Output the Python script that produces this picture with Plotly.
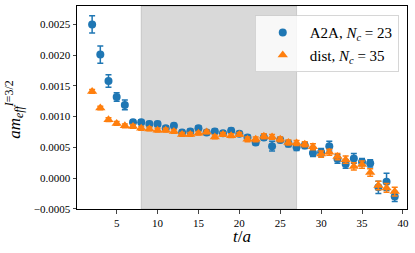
import plotly.graph_objects as go

t = list(range(2, 40))
a2a_vals = [0.00250, 0.00201, 0.00158, 0.00132, 0.00119, 0.00091, 0.00091, 0.00088, 0.00088, 0.00081,
            0.00085, 0.00074, 0.00076, 0.00081, 0.00074, 0.00076, 0.00073, 0.00077, 0.00072, 0.00066,
            0.00058, 0.00066, 0.00052, 0.00062, 0.00056, 0.00050, 0.00053, 0.00041, 0.00042, 0.00052,
            0.00031, 0.00023, 0.00032, 0.00026, 0.00024, -0.00015, -0.00006, -0.00030]
a2a_err = [0.00014, 0.00014, 0.00010, 0.00007, 0.00008, 0.00004, 0.00004, 0.00004, 0.00004, 0.00004,
           0.00004, 0.00004, 0.00004, 0.00004, 0.00004, 0.00004, 0.00004, 0.00004, 0.00004, 0.00004,
           0.00004, 0.00004, 0.00008, 0.00004, 0.00005, 0.00005, 0.00005, 0.00006, 0.00006, 0.00008,
           0.00007, 0.00007, 0.00008, 0.00006, 0.00006, 0.00010, 0.00014, 0.00008]
dist_vals = [0.00141, 0.00114, 0.00095, 0.00089, 0.00085, 0.00084, 0.00081, 0.00080, 0.00078, 0.00078,
             0.00076, 0.00071, 0.00071, 0.00073, 0.00075, 0.00067, 0.00071, 0.00069, 0.00071, 0.00063,
             0.00063, 0.00068, 0.00067, 0.00063, 0.00058, 0.00057, 0.00055, 0.00051, 0.00039, 0.00042,
             0.00035, 0.00030, 0.00019, 0.00022, 0.00009, -0.00012, -0.00016, -0.00022]
dist_err = [0.00003, 0.00003, 0.00003, 0.00003, 0.00003, 0.00003, 0.00003, 0.00003, 0.00003, 0.00003,
            0.00003, 0.00003, 0.00003, 0.00003, 0.00003, 0.00003, 0.00003, 0.00003, 0.00003, 0.00004,
            0.00004, 0.00004, 0.00004, 0.00004, 0.00004, 0.00004, 0.00004, 0.00005, 0.00005, 0.00005,
            0.00005, 0.00006, 0.00006, 0.00006, 0.00006, 0.00007, 0.00007, 0.00007]
fit_window = [8, 27]
x_ticks = [5, 10, 15, 20, 25, 30, 35, 40]
y_ticks = [-0.0005, 0.0, 0.0005, 0.0010, 0.0015, 0.0020, 0.0025]

FONT = "Liberation Serif, DejaVu Serif, serif"

fig = go.Figure()
fig.add_trace(go.Scatter(
    x=t, y=a2a_vals, mode="markers", name="A2A, <i>N</i><sub><i>c</i></sub> = 23",
    marker=dict(symbol="circle", size=8, color="#1f77b4"),
    error_y=dict(type="data", array=a2a_err, visible=True, color="#1f77b4", thickness=1.5, width=3),
))
fig.add_trace(go.Scatter(
    x=t, y=dist_vals, mode="markers", name="dist, <i>N</i><sub><i>c</i></sub> = 35",
    marker=dict(symbol="triangle-up", size=9, color="#ff7f0e"),
    error_y=dict(type="data", array=dist_err, visible=True, color="#ff7f0e", thickness=1.5, width=3),
))
fig.add_vrect(x0=fit_window[0], x1=fit_window[1], fillcolor="rgba(128,128,128,0.3)",
              line=dict(color="rgba(128,128,128,0.3)", width=1), layer="below")

fig.add_annotation(text="<i>t</i>/<i>a</i>", xref="paper", yref="paper", x=0.5, y=-0.135,
                   xanchor="center", yanchor="middle", showarrow=False,
                   font=dict(family=FONT, size=17, color="black"))
fig.add_annotation(text="<i>am</i><sub><i>eff</i></sub><sup><i>I</i>=3/2</sup>", xref="paper", yref="paper",
                   x=-0.19, y=0.49, xanchor="center", yanchor="middle", showarrow=False, textangle=-90,
                   font=dict(family=FONT, size=17, color="black"))

fig.update_layout(
    template="none",
    width=415, height=253,
    margin=dict(l=77, r=8, t=6, b=44, autoexpand=False),
    paper_bgcolor="white", plot_bgcolor="white",
    font=dict(family=FONT, size=11, color="black"),
    showlegend=True,
    legend=dict(x=0.975, y=0.955, xanchor="right", yanchor="top",
                bgcolor="rgba(255,255,255,0.8)", bordercolor="rgba(204,204,204,0.8)", borderwidth=1,
                font=dict(family=FONT, size=15), tracegroupgap=0, itemwidth=44),
    xaxis=dict(range=[0.15, 40.5], tickvals=x_ticks, ticks="outside", ticklen=3.5, tickwidth=0.8,
               automargin=False,
               showline=True, linecolor="black", linewidth=1, mirror=True, showgrid=False, zeroline=False,
               tickfont=dict(family=FONT, size=11)),
    yaxis=dict(range=[-0.000503, 0.0028], tickvals=y_ticks, tickformat=".4f", ticks="outside",
               ticklen=3.5, tickwidth=0.8, automargin=False,
               showline=True, linecolor="black", linewidth=1, mirror=True, showgrid=False, zeroline=False,
               tickfont=dict(family=FONT, size=11)),
)

fig.write_html("out.html", config={"displayModeBar": False},
               post_script="document.body.style.margin='0';document.body.style.overflow='hidden';")
